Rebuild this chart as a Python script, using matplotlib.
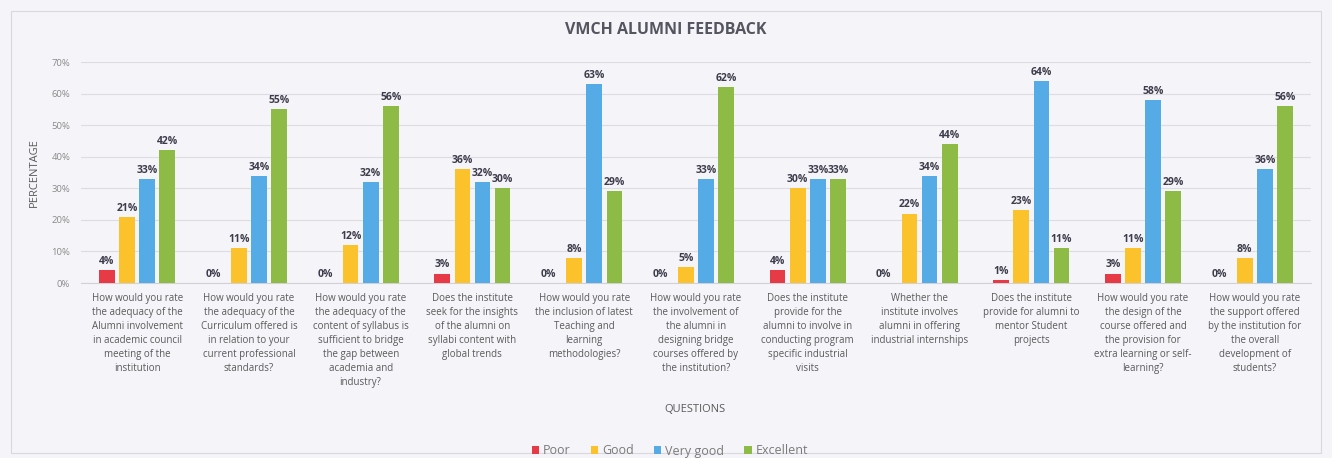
import numpy as np
import matplotlib
matplotlib.use("Agg")
import matplotlib.pyplot as plt
from matplotlib.patches import Rectangle

plt.rcParams['font.family'] = ['Open Sans', 'DejaVu Sans']

questions = [
    "How would you rate\nthe adequacy of the\nAlumni involvement\nin academic council\nmeeting of the\ninstitution",
    "How would you rate\nthe adequacy of the\nCurriculum offered is\nin relation to your\ncurrent professional\nstandards?",
    "How would you rate\nthe adequacy of the\ncontent of syllabus is\nsufficient to bridge\nthe gap between\nacademia and\nindustry?",
    "Does the institute\nseek for the insights\nof the alumni on\nsyllabi content with\nglobal trends",
    "How would you rate\nthe inclusion of latest\nTeaching and\nlearning\nmethodologies?",
    "How would you rate\nthe involvement of\nthe alumni in\ndesigning bridge\ncourses offered by\nthe institution?",
    "Does the institute\nprovide for the\nalumni to involve in\nconducting program\nspecific industrial\nvisits",
    "Whether the\ninstitute involves\nalumni in offering\nindustrial internships",
    "Does the institute\nprovide for alumni to\nmentor Student\nprojects",
    "How would you rate\nthe design of the\ncourse offered and\nthe provision for\nextra learning or self-\nlearning?",
    "How would you rate\nthe support offered\nby the institution for\nthe overall\ndevelopment of\nstudents?",
]

poor = [4, 0, 0, 3, 0, 0, 4, 0, 1, 3, 0]
good = [21, 11, 12, 36, 8, 5, 30, 22, 23, 11, 8]
very_good = [33, 34, 32, 32, 63, 33, 33, 34, 64, 58, 36]
excellent = [42, 55, 56, 30, 29, 62, 33, 44, 11, 29, 56]

series_names = ["Poor", "Good", "Very good", "Excellent"]
series_colors = ["#e63a46", "#fcc22c", "#55abe6", "#8dbb45"]

bg = "#f5f4f9"
text_col = "#5a5a5a"

fig = plt.figure(figsize=(13.32, 4.58), dpi=100, facecolor=bg)
ax = fig.add_axes([0.061, 0.382, 0.923, 0.4826], facecolor=bg)

# outer chart border
fig.patches.append(Rectangle((0.008, 0.01), 0.984, 0.965, transform=fig.transFigure,
                             fill=False, edgecolor="#d9d9dd", linewidth=0.8))

x = np.arange(len(questions))
width = 0.14
pitch = 0.18
all_series = [poor, good, very_good, excellent]
for i, (vals, name, col) in enumerate(zip(all_series, series_names, series_colors)):
    offs = (i - 1.5) * pitch
    ax.bar(x + offs, vals, width, color=col, label=name, zorder=3)
    for xx, v in zip(x + offs, vals):
        ax.text(xx - (0.05 if v == 0 else 0), v + 1.0, f"{v}%", ha="center", va="bottom",
                fontsize=7.5, color="#3c3c4a", fontweight="bold", zorder=4)

ax.set_xlim(-0.5, len(questions) - 0.5)
ax.set_ylim(0, 70)
ax.set_yticks(range(0, 71, 10))
ax.set_yticklabels([f"{t}%" for t in range(0, 71, 10)], fontsize=6.8, color="#8a8a8a")
ax.yaxis.grid(True, color="#dcdce2", linewidth=0.8, zorder=0)
ax.set_xticks(x)
ax.set_xticklabels(questions, fontsize=7, color=text_col, va="top", linespacing=1.38)
ax.tick_params(axis="both", length=0)
ax.tick_params(axis="x", pad=7)
ax.tick_params(axis="y", pad=8)
for s in ax.spines.values():
    s.set_visible(False)
ax.spines["bottom"].set_visible(True)
ax.spines["bottom"].set_color("#d0d0d6")

ax.set_ylabel("PERCENTAGE", fontsize=8, color=text_col, labelpad=8)
fig.text(0.522, 1 - 410 / 458, "QUESTIONS", ha="center", va="center",
         fontsize=8, color=text_col)

fig.text(0.5, 0.935, "VMCH ALUMNI FEEDBACK", ha="center", va="center",
         fontsize=11.5, color="#555560", fontweight="bold")

leg = fig.legend(loc="center", bbox_to_anchor=(0.503, 1 - 451 / 458), ncol=4, frameon=False,
                 fontsize=9, handlelength=0.6, handleheight=0.6, handletextpad=0.3,
                 columnspacing=1.6)
for t in leg.get_texts():
    t.set_color("#7a7a7a")

fig.savefig("out.png", dpi=100, facecolor=bg)
